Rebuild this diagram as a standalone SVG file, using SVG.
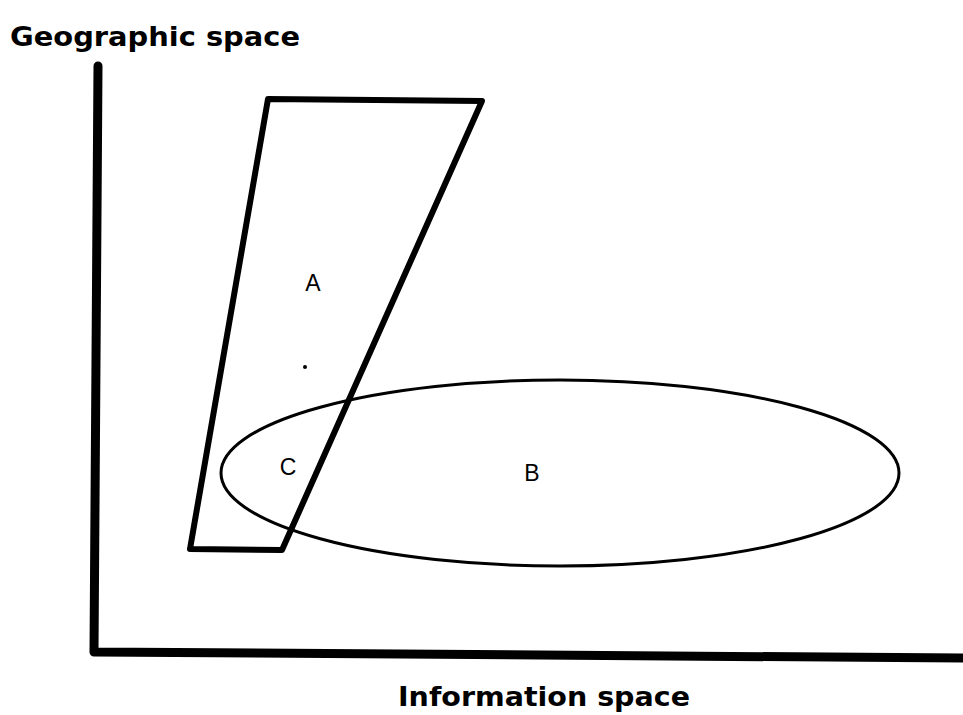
<svg xmlns="http://www.w3.org/2000/svg" width="963" height="715" viewBox="0 0 963 715">
<style>
.t{font-family:"DejaVu Sans","Liberation Sans",sans-serif;font-weight:bold;fill:#000}
.l{font-family:"Liberation Sans",sans-serif;font-size:23px;fill:#000}
</style>
<rect width="963" height="715" fill="#fff"/>
<g id="axes" fill="none" stroke="#000" stroke-linecap="round" stroke-linejoin="round">
<path d="M98,66 L94,652 L963,658" stroke-width="9"/>
</g>
<g id="regionA">
<path d="M268,99 L482,101 L282,550 L190,549 Z" fill="none" stroke="#000" stroke-width="6" stroke-linejoin="round"/>
<text class="l" x="313" y="291" text-anchor="middle">A</text>
<circle cx="305" cy="367" r="2" fill="#000"/>
</g>
<g id="regionB">
<ellipse cx="560" cy="473" rx="339" ry="93" fill="none" stroke="#000" stroke-width="3"/>
<text class="l" x="532" y="481" text-anchor="middle">B</text>
</g>
<g id="regionC">
<text class="l" x="288" y="475" text-anchor="middle">C</text>
</g>
<text class="t" x="10" y="46" font-size="27" textLength="290" lengthAdjust="spacingAndGlyphs">Geographic space</text>
<text class="t" x="398" y="706" font-size="27" textLength="292" lengthAdjust="spacingAndGlyphs">Information space</text>
</svg>
